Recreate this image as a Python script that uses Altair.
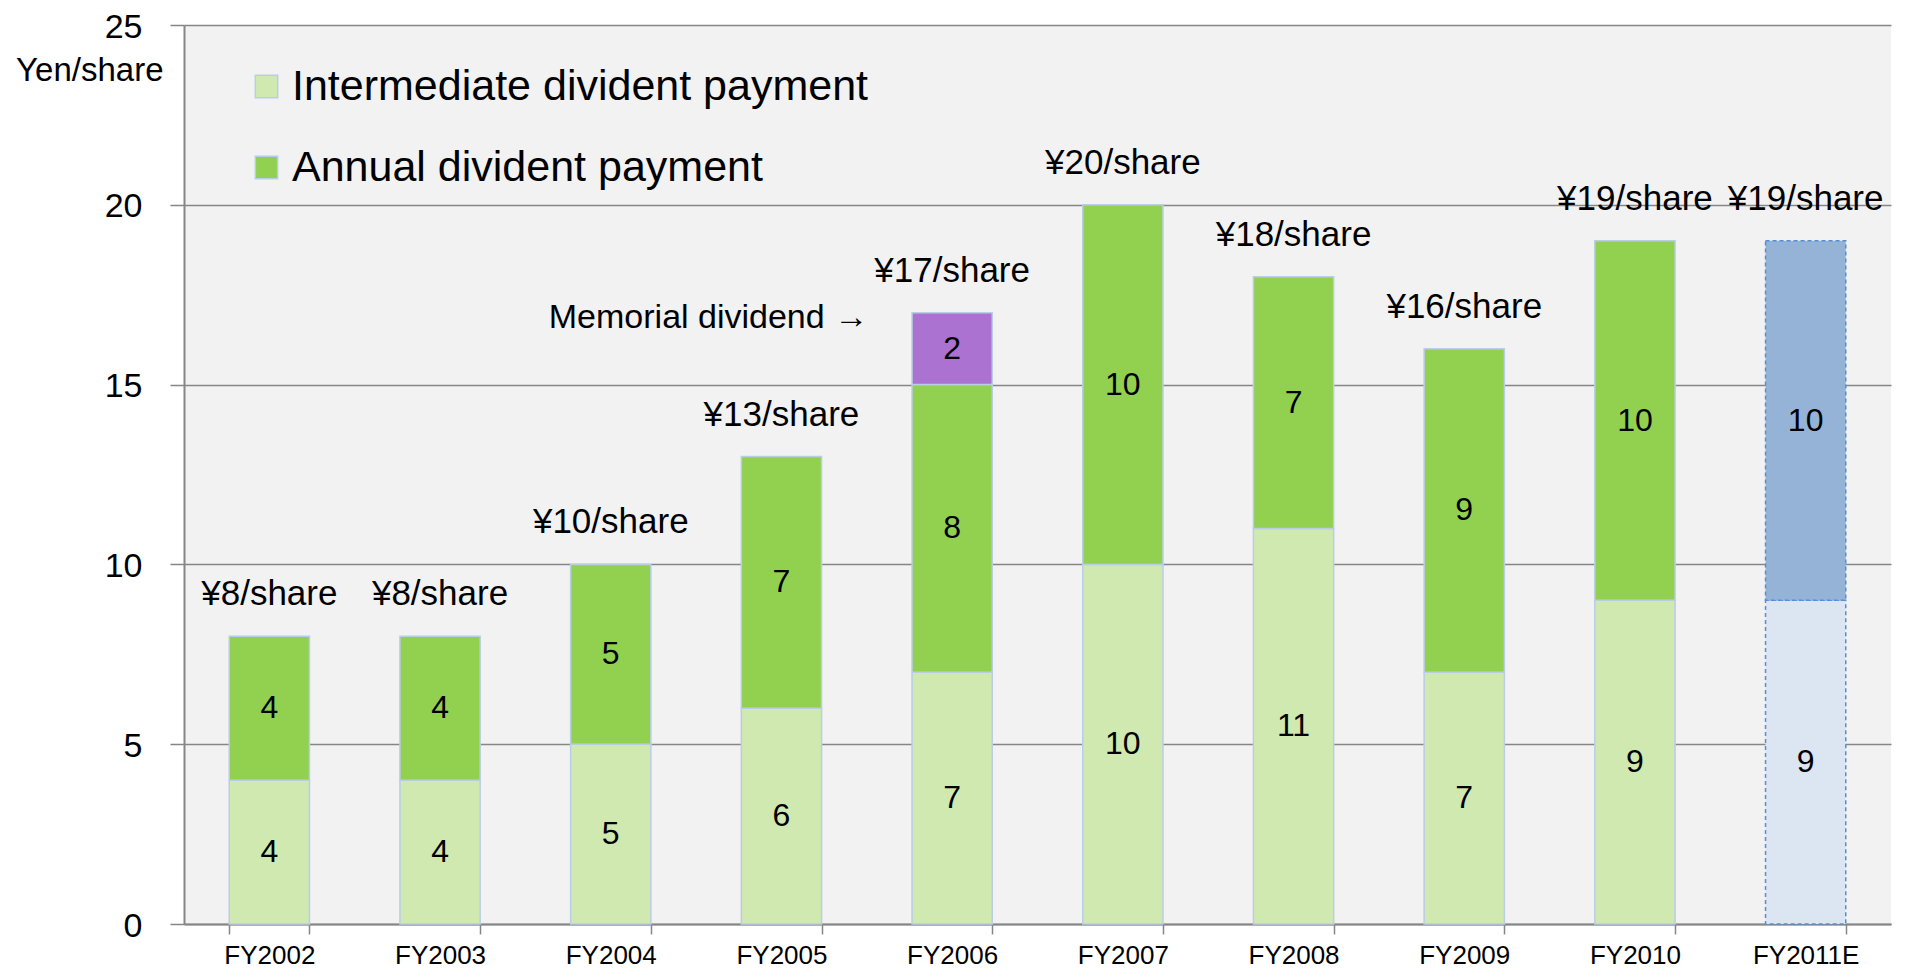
import altair as alt
import pandas as pd

years = ["FY2002", "FY2003", "FY2004", "FY2005", "FY2006",
         "FY2007", "FY2008", "FY2009", "FY2010", "FY2011E"]
intermediate = [4, 4, 5, 6, 7, 10, 11, 7, 9, 9]
annual = [4, 4, 5, 7, 8, 10, 7, 9, 10, 10]
memorial = [0, 0, 0, 0, 2, 0, 0, 0, 0, 0]
is_forecast = [False] * 9 + [True]
total_labels = ["¥8/share", "¥8/share", "¥10/share", "¥13/share", "¥17/share",
                "¥20/share", "¥18/share", "¥16/share", "¥19/share", "¥19/share"]

S_INT = "Intermediate divident payment"
S_ANN = "Annual divident payment"
S_MEM = "Memorial dividend"
S_FINT = "Intermediate (forecast)"
S_FANN = "Annual (forecast)"

series_domain = [S_INT, S_ANN, S_MEM, S_FINT, S_FANN]
series_colors = ["#d0e9b0", "#92d050", "#ab72d2", "#dce6f2", "#95b3d7"]

rows = []
tot_rows = []
for i, yr in enumerate(years):
    if is_forecast[i]:
        parts = [(S_FINT, intermediate[i]), (S_FANN, annual[i])]
    else:
        parts = [(S_INT, intermediate[i]), (S_ANN, annual[i]), (S_MEM, memorial[i])]
    start = 0
    for name, v in parts:
        if v > 0:
            rows.append({"year": yr, "series": name, "y0": start, "y1": start + v,
                         "mid": start + v / 2, "label": str(v), "forecast": is_forecast[i]})
            start += v
    tot_rows.append({"year": yr, "total": start, "label": total_labels[i]})

df = pd.DataFrame(rows)
tot = pd.DataFrame(tot_rows)
mem_df = pd.DataFrame([{"year": years[4], "total": tot_rows[4]["total"],
                        "label": "Memorial dividend  →"}])

FONT = "Liberation Sans"
GRAY = "#868686"

x_enc = alt.X("year:N", sort=years, title=None,
              scale=alt.Scale(domain=years, paddingInner=0.53, paddingOuter=0.265),
              axis=alt.Axis(tickBand="extent", labelAngle=0, labelFontSize=26,
                            labelFont=FONT, labelColor="black", labelPadding=8,
                            domainColor=GRAY, domainWidth=2, tickColor=GRAY,
                            tickWidth=1.5, tickSize=10, grid=False))

y_scale = alt.Scale(domain=[0, 25], nice=False)
y_axis = alt.Axis(values=[0, 5, 10, 15, 20, 25], grid=True, gridColor=GRAY, gridWidth=1.5,
                  domainColor=GRAY, domainWidth=2, tickColor=GRAY, tickWidth=1.5,
                  tickSize=14, labelFontSize=34, labelFont=FONT, labelColor="black",
                  labelPadding=28, labelOffset=2,
                  title="Yen/share", titleAngle=0, titleAlign="right",
                  titleBaseline="middle", titleX=-21, titleY=45, titleFontSize=33,
                  titleFont=FONT, titleFontWeight="normal", titleColor="black")

fill_enc = alt.Fill("series:N",
                    scale=alt.Scale(domain=series_domain, range=series_colors),
                    legend=alt.Legend(values=[S_INT, S_ANN], title=None, orient="none",
                                      legendX=61, legendY=40, symbolType="square",
                                      symbolSize=500, symbolStrokeColor="#b9cde5",
                                      symbolStrokeWidth=1.5, labelFontSize=43,
                                      labelFont=FONT, labelColor="black",
                                      labelOffset=4, rowPadding=37, labelLimit=900))

base = alt.Chart(df)

bars = base.transform_filter("!datum.forecast").mark_bar(
    stroke="#b9cde5", strokeWidth=1.5
).encode(x=x_enc, y=alt.Y("y0:Q", scale=y_scale, axis=y_axis), y2="y1:Q", fill=fill_enc)

fbars = base.transform_filter("datum.forecast").mark_bar(
    stroke="#558ed5", strokeWidth=1.5, strokeDash=[4, 3]
).encode(x=alt.X("year:N", sort=years), y="y0:Q", y2="y1:Q", fill=fill_enc)

seg_text = base.mark_text(fontSize=32, font=FONT, color="black", baseline="middle").encode(
    x=alt.X("year:N", sort=years), y="mid:Q", text="label:N")

tot_text = alt.Chart(tot).mark_text(fontSize=35, font=FONT, color="black",
                                    baseline="middle", dy=-42).encode(
    x=alt.X("year:N", sort=years), y="total:Q", text="label:N")

mem_text = alt.Chart(mem_df).mark_text(fontSize=34, font=FONT, color="black",
                                       baseline="middle", align="right",
                                       dx=-84, dy=5).encode(
    x=alt.X("year:N", sort=years), y="total:Q", text="label:N")

chart = alt.layer(bars, fbars, seg_text, tot_text, mem_text).properties(
    width=1707, height=899,
    padding={"left": 176, "top": 17, "right": 10, "bottom": 46},
    autosize=alt.AutoSizeParams(type="none"),
    background="white",
).configure_view(fill="#f2f2f2", strokeWidth=0)

chart.save("out.html", embed_options={"renderer": "svg", "actions": False})
